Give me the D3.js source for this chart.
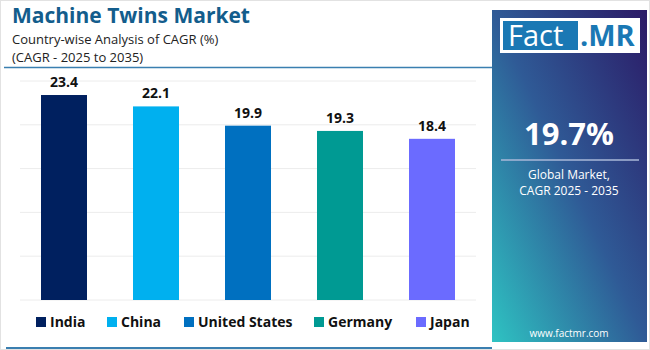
<!DOCTYPE html>
<html>
<head>
<meta charset="utf-8">
<script src="https://cdn.jsdelivr.net/npm/d3@7"></script>
<style>
  body { margin: 0; background: #fff; }
  svg { display: block; font-family: "Open Sans", sans-serif; }
</style>
</head>
<body>
<script>
var width = 650;
var height = 350;

// data
var countries = ["India", "China", "United States", "Germany", "Japan"];
var cagr = [23.4, 22.1, 19.9, 19.3, 18.4];
var colors = ["#00205f", "#00b0ef", "#0070c0", "#009a93", "#6b6bff"];
var gridTicks = [0, 5, 10, 15, 20, 25];
var globalCagr = "19.7%";

var svg = d3.select("body")
  .append("svg")
  .attr("width", width)
  .attr("height", height);

// outer frame
svg.append("rect")
  .attr("x", 0.5).attr("y", 0.5)
  .attr("width", width - 1).attr("height", height - 1)
  .attr("fill", "#fff")
  .attr("stroke", "#e2e2e2");

// title block
svg.append("text")
  .attr("x", 12).attr("y", 23)
  .attr("font-size", "21px")
  .attr("font-weight", "bold")
  .attr("fill", "#135d8c")
  .text("Machine Twins Market");

svg.append("text")
  .attr("x", 12).attr("y", 44)
  .attr("font-size", "13px")
  .attr("fill", "#222")
  .text("Country-wise Analysis of CAGR (%)");

svg.append("text")
  .attr("x", 12).attr("y", 62)
  .attr("font-size", "13px")
  .attr("fill", "#222")
  .text("(CAGR - 2025 to 2035)");

svg.append("line")
  .attr("x1", 4).attr("x2", 492)
  .attr("y1", 67.5).attr("y2", 67.5)
  .attr("stroke", "#3a7fb0")
  .attr("stroke-width", 1.5);

// scales
var xScale = d3.scaleBand()
  .domain(countries)
  .range([18, 478])
  .paddingInner(0.5)
  .paddingOuter(0.25);

var yScale = d3.scaleLinear()
  .domain([0, 25])
  .range([300, 81]);

// grid lines
svg.selectAll("line.grid")
  .data(gridTicks)
  .enter()
  .append("line")
  .attr("class", "grid")
  .attr("x1", 20).attr("x2", 476)
  .attr("y1", function(d) { return yScale(d); })
  .attr("y2", function(d) { return yScale(d); })
  .attr("stroke", "#ececec")
  .attr("stroke-width", 1);

// bars
svg.selectAll("rect.bar")
  .data(cagr)
  .enter()
  .append("rect")
  .attr("class", "bar")
  .attr("x", function(d, i) { return xScale(countries[i]); })
  .attr("y", function(d) { return yScale(d); })
  .attr("width", xScale.bandwidth())
  .attr("height", function(d) { return yScale(0) - yScale(d); })
  .attr("fill", function(d, i) { return colors[i]; });

// value labels
svg.selectAll("text.value")
  .data(cagr)
  .enter()
  .append("text")
  .attr("class", "value")
  .attr("x", function(d, i) { return xScale(countries[i]) + xScale.bandwidth() / 2; })
  .attr("y", function(d) { return yScale(d) - 8; })
  .attr("text-anchor", "middle")
  .attr("font-size", "14px")
  .attr("font-weight", "bold")
  .attr("fill", "#111")
  .text(function(d) { return d.toFixed(1); });

// legend
var legendX = [36, 107, 184, 314, 416];
var legend = svg.selectAll("g.legend")
  .data(countries)
  .enter()
  .append("g")
  .attr("class", "legend")
  .attr("transform", function(d, i) { return "translate(" + legendX[i] + ",322)"; });

legend.append("rect")
  .attr("x", 0).attr("y", -5)
  .attr("width", 10).attr("height", 10)
  .attr("fill", function(d, i) { return colors[i]; });

legend.append("text")
  .attr("x", 14).attr("y", 5)
  .attr("font-size", "14px")
  .attr("font-weight", "bold")
  .attr("fill", "#111")
  .text(function(d) { return d; });

// bottom rule
svg.append("line")
  .attr("x1", 6).attr("x2", 492)
  .attr("y1", 348).attr("y2", 348)
  .attr("stroke", "#3a7fb0")
  .attr("stroke-width", 2);

// side panel
var defs = svg.append("defs");
var grad = defs.append("linearGradient")
  .attr("id", "panelGrad")
  .attr("x1", "100%").attr("y1", "0%")
  .attr("x2", "0%").attr("y2", "100%");
grad.append("stop").attr("offset", "0%").attr("stop-color", "#2b1a66");
grad.append("stop").attr("offset", "50%").attr("stop-color", "#2f5a96");
grad.append("stop").attr("offset", "100%").attr("stop-color", "#2ec3c2");

svg.append("rect")
  .attr("x", 492).attr("y", 10)
  .attr("width", 155).attr("height", 332)
  .attr("fill", "url(#panelGrad)");

// logo
svg.append("rect")
  .attr("x", 500).attr("y", 18)
  .attr("width", 140).attr("height", 35)
  .attr("fill", "#fff");
svg.append("rect")
  .attr("x", 503).attr("y", 21)
  .attr("width", 75).attr("height", 29)
  .attr("fill", "#1a78b4");
svg.append("text")
  .attr("x", 508).attr("y", 46)
  .attr("font-size", "29px")
  .attr("fill", "#fff")
  .text("Fact");
svg.append("text")
  .attr("x", 580).attr("y", 46)
  .attr("font-size", "29px")
  .attr("font-weight", "bold")
  .attr("fill", "#1a78b4")
  .text(".MR");

svg.append("text")
  .attr("x", 569).attr("y", 145)
  .attr("text-anchor", "middle")
  .attr("font-size", "31px")
  .attr("font-weight", "bold")
  .attr("fill", "#fff")
  .text(globalCagr);

svg.append("line")
  .attr("x1", 501).attr("x2", 639)
  .attr("y1", 160).attr("y2", 160)
  .attr("stroke", "#aab8d8")
  .attr("stroke-width", 1.5);

svg.append("text")
  .attr("x", 569).attr("y", 179)
  .attr("text-anchor", "middle")
  .attr("font-size", "12px")
  .attr("fill", "#fff")
  .text("Global Market,");
svg.append("text")
  .attr("x", 569).attr("y", 195)
  .attr("text-anchor", "middle")
  .attr("font-size", "12px")
  .attr("fill", "#fff")
  .text("CAGR 2025 - 2035");

svg.append("text")
  .attr("x", 569).attr("y", 337)
  .attr("text-anchor", "middle")
  .attr("font-size", "10px")
  .attr("fill", "#fff")
  .text("www.factmr.com");
</script>
</body>
</html>
